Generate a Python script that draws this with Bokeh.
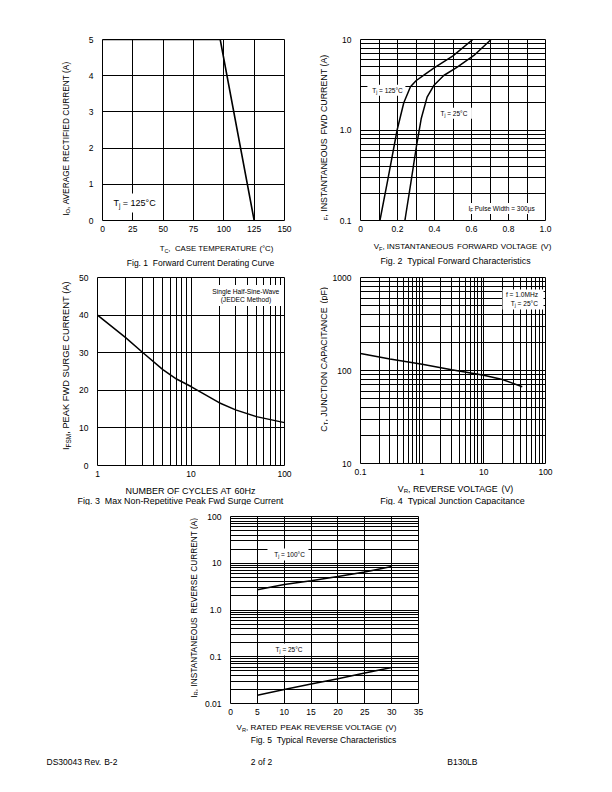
import math
import re
from bokeh.plotting import figure
from bokeh.models import Label, Range1d, FixedTicker, BasicTickFormatter
from bokeh.layouts import column, row
from bokeh.embed import file_html
from bokeh.resources import INLINE

FONT = "Liberation Sans"

# ---------------- data ----------------
# Fig 1  forward current derating
derate_tc = [0, 97, 125]
derate_io = [5, 5, 0]
f1_xticks = [0, 25, 50, 75, 100, 125, 150]
f1_xlabels = ["0", "25", "50", "75", "100", "125", "150"]
f1_yticks = [0, 1, 2, 3, 4, 5]
f1_ylabels = ["0", "1", "2", "3", "4", "5"]

# Fig 2  forward characteristics
vf_125 = [0.105, 0.15, 0.198, 0.234, 0.27, 0.30, 0.35, 0.40, 0.50, 0.607]
if_125 = [0.1, 0.30, 1.0, 2.0, 3.0, 3.5, 4.15, 4.9, 6.6, 10.0]
vf_25 = [0.24, 0.27, 0.303, 0.328, 0.36, 0.396, 0.45, 0.523, 0.613, 0.706]
if_25 = [0.1, 0.244, 0.674, 1.33, 2.31, 3.1, 4.0, 4.94, 6.66, 10.0]
f2_xticks = [0, 0.2, 0.4, 0.6, 0.8, 1.0]
f2_xlabels = ["0", "0.2", "0.4", "0.6", "0.8", "1.0"]
f2_xminor = [0.1, 0.3, 0.5, 0.7, 0.9]
f2_yticks = [0.1, 1, 10]
f2_ylabels = ["0.1", "1.0", "10"]
f2_yminor = [0.2, 0.3, 0.4, 0.5, 0.6, 0.7, 0.8, 0.9, 2, 3, 4, 5, 6, 7, 8, 9]

# Fig 3  surge current
cycles = [1, 2, 3, 5, 7, 10, 20, 30, 50, 100]
ifsm = [40, 34, 30.2, 25.5, 23, 21, 16.7, 14.8, 13, 11.4]
f3_xticks = [1, 10, 100]
f3_xlabels = ["1", "10", "100"]
f3_xminor = [2, 3, 4, 5, 6, 7, 8, 9, 20, 30, 40, 50, 60, 70, 80, 90]
f3_yticks = [0, 10, 20, 30, 40, 50]
f3_ylabels = ["0", "10", "20", "30", "40", "50"]

# Fig 4  junction capacitance
vr_cap = [0.1, 0.3, 1, 3, 10, 20, 42]
cj = [152, 133, 117, 102, 89, 80, 67]
f4_xticks = [0.1, 1, 10, 100]
f4_xlabels = ["0.1", "1", "10", "100"]
f4_xminor = [0.2, 0.3, 0.4, 0.5, 0.6, 0.7, 0.8, 0.9, 2, 3, 4, 5, 6, 7, 8, 9,
             20, 30, 40, 50, 60, 70, 80, 90]
f4_yticks = [10, 100, 1000]
f4_ylabels = ["10", "100", "1000"]
f4_yminor = [20, 30, 40, 50, 60, 70, 80, 90, 200, 300, 400, 500, 600, 700, 800, 900]

# Fig 5  reverse characteristics
vr_rev = [5, 10, 15, 20, 25, 30]
ir_100 = [2.7, 3.5, 4.2, 5.2, 6.5, 8.5]
ir_25 = [0.015, 0.020, 0.026, 0.034, 0.045, 0.059]
f5_xticks = [0, 5, 10, 15, 20, 25, 30, 35]
f5_xlabels = ["0", "5", "10", "15", "20", "25", "30", "35"]
f5_yticks = [0.01, 0.1, 1, 10, 100]
f5_ylabels = ["0.01", "0.1", "1.0", "10", "100"]
f5_yminor = [0.02, 0.03, 0.04, 0.05, 0.06, 0.07, 0.08, 0.09,
             0.2, 0.3, 0.4, 0.5, 0.6, 0.7, 0.8, 0.9,
             2, 3, 4, 5, 6, 7, 8, 9, 20, 30, 40, 50, 60, 70, 80, 90]

# ---------------- text helpers ----------------
W = {' ': .278, ',': .278, '.': .278, '-': .333, '(': .333, ')': .333, '=': .584,
     '°': .4, 'µ': .556, 'A': .667, 'B': .667, 'C': .722, 'D': .722, 'E': .667,
     'F': .611, 'G': .778, 'H': .722, 'I': .278, 'J': .5, 'K': .667, 'L': .556,
     'M': .833, 'N': .722, 'O': .778, 'P': .667, 'Q': .778, 'R': .722, 'S': .667,
     'T': .611, 'U': .722, 'V': .667, 'W': .944, 'X': .667, 'Y': .667, 'Z': .611,
     'a': .556, 'b': .556, 'c': .5, 'd': .556, 'e': .556, 'f': .278, 'g': .556,
     'h': .556, 'i': .222, 'j': .222, 'k': .5, 'l': .222, 'm': .833, 'n': .556,
     'o': .556, 'p': .556, 'q': .556, 'r': .333, 's': .5, 't': .278, 'u': .556,
     'v': .5, 'w': .722, 'x': .5, 'y': .5, 'z': .5}


def tw(s, size):
    return sum(W.get(c, .556) for c in s) * size


def rich(p, x, y, segs, size, angle=0.0, align="center"):
    sub = 0.7 * size
    ws = [tw(t, sub if s else size) for t, s in segs]
    tot = sum(ws)
    pos = {"center": -tot / 2, "left": 0.0, "right": -tot}[align]
    for (t, s), w in zip(segs, ws):
        fs = sub if s else size
        drop = 0.28 * size if s else 0.0
        cur = pos
        for part in re.split(r"( +)", t):
            if not part:
                continue
            if part.strip() == "":
                cur += tw(part, fs)
                continue
            if angle:
                xo, yo = drop, cur
            else:
                xo, yo = cur, -drop
            p.add_layout(Label(x=x, y=y, x_offset=xo, y_offset=yo,
                               text=part, angle=angle,
                               text_align="left", text_baseline="middle",
                               text_font=FONT, text_font_size=f"{fs:.2f}px",
                               text_color="black"))
            cur += tw(part, fs)
        pos += w


def make_fig(width, height, left, right, top, bottom, xr, yr, xt="linear", yt="linear"):
    p = figure(width=width, height=height, min_border_left=left, min_border_right=right,
               min_border_top=top, min_border_bottom=bottom, x_range=xr, y_range=yr,
               x_axis_type=xt, y_axis_type=yt, output_backend="svg",
               toolbar_location=None, tools="")
    p.outline_line_color = "black"
    p.outline_line_width = 1
    p.outline_line_alpha = 1
    p.background_fill_color = "white"
    p.border_fill_color = "white"
    for ax in (p.xaxis[0], p.yaxis[0]):
        ax.axis_line_color = None
        ax.major_tick_line_color = None
        ax.minor_tick_line_color = None
        ax.major_tick_out = 0
        ax.major_tick_in = 0
        ax.minor_tick_out = 0
        ax.minor_tick_in = 0
        ax.major_label_text_font = FONT
        ax.major_label_text_font_size = "8.5px"
        ax.major_label_text_color = "black"
        ax.formatter = BasicTickFormatter()
    p.xaxis[0].major_label_standoff = 5
    p.yaxis[0].major_label_standoff = 9
    for g in (p.xgrid[0], p.ygrid[0]):
        g.grid_line_color = "black"
        g.grid_line_alpha = 1
        g.grid_line_width = 1
        g.minor_grid_line_color = "black"
        g.minor_grid_line_alpha = 1
        g.minor_grid_line_width = 1
    return p


def make_strip(width, height):
    # text-only panel: its frame covers the whole canvas, 1 unit = 1 px
    s = figure(width=width, height=height, min_border_left=0, min_border_right=0,
               min_border_top=0, min_border_bottom=0,
               x_range=Range1d(0, width), y_range=Range1d(0, height),
               x_axis_location=None, y_axis_location=None, output_backend="svg",
               toolbar_location=None, tools="")
    s.outline_line_color = None
    s.background_fill_color = "white"
    s.border_fill_color = "white"
    for g in s.grid:
        g.visible = False
    return s


def ticks(p, dim, major, labels, minor=None):
    t = FixedTicker(ticks=major, minor_ticks=minor or [])
    ax = p.xaxis[0] if dim == "x" else p.yaxis[0]
    g = p.xgrid[0] if dim == "x" else p.ygrid[0]
    ax.ticker = t
    g.ticker = t
    ax.major_label_overrides = {v: l for v, l in zip(major, labels)}


def box(p, x, y, w, h):
    p.rect(x=[x], y=[y], width=[w], height=[h], width_units="screen",
           height_units="screen", fill_color="white", line_color=None)


VERT = math.pi / 2

# ---------------- Fig 1 ----------------
p1 = make_fig(228, 236, 30, 16, 39, 16, Range1d(0, 150), Range1d(0, 5))
ticks(p1, "x", f1_xticks, f1_xlabels)
ticks(p1, "y", f1_yticks, f1_ylabels)
box(p1, 25.1, 0.48, 49, 19)
p1.line(derate_tc, derate_io, line_color="black", line_width=1.6)
rich(p1, 26.4, 0.48, [("T", 0), ("j", 1), (" = 125°C", 0)], 9)
L1 = make_strip(72, 236)
rich(L1, 65, 106.5, [("I", 0), ("O", 1), (", AVERAGE RECTIFIED CURRENT (A)", 0)], 8.3, VERT)
B1 = make_strip(300, 34)
rich(B1, 216, 22, [("T", 0), ("C", 1), (",  CASE TEMPERATURE (°C)", 0)], 7.8)
rich(B1, 200, 8, [("Fig. 1  Forward Current Derating Curve", 0)], 8.5)

# ---------------- Fig 2 ----------------
p2 = make_fig(272, 236, 28, 59, 39, 16, Range1d(0, 1.0), Range1d(0.1, 10), yt="log")
ticks(p2, "x", f2_xticks, f2_xlabels, f2_xminor)
ticks(p2, "y", f2_yticks, f2_ylabels, f2_yminor)
box(p2, 0.14, 2.75, 38, 11)
box(p2, 0.505, 1.53, 36, 11)
box(p2, 0.76, 0.136, 76, 11)
p2.line(vf_125, if_125, line_color="black", line_width=1.5)
p2.line(vf_25, if_25, line_color="black", line_width=1.5)
rich(p2, 0.146, 2.70, [("T", 0), ("j", 1), (" = 125°C", 0)], 6.5)
rich(p2, 0.505, 1.53, [("T", 0), ("j", 1), (" = 25°C", 0)], 6.5)
rich(p2, 0.762, 0.136, [("I", 0), ("F", 1), (" Pulse Width = 300µs", 0)], 6.5)
L2 = make_strip(32, 236)
rich(L2, 23, 106.5, [("I", 0), ("F", 1), (", INSTANTANEOUS FWD CURRENT (A)", 0)], 8.8, VERT)
B2 = make_strip(304, 34)
rich(B2, 162, 24, [("V", 0), ("F", 1), (", INSTANTANEOUS FORWARD VOLTAGE (V)", 0)], 8)
rich(B2, 155, 10, [("Fig. 2  Typical Forward Characteristics", 0)], 8.8)

# ---------------- Fig 3 ----------------
p3 = make_fig(228, 211, 25, 16, 7, 16, Range1d(1, 100), Range1d(0, 50), xt="log")
ticks(p3, "x", f3_xticks, f3_xlabels, f3_xminor)
ticks(p3, "y", f3_yticks, f3_ylabels)
box(p3, 38.7, 45.2, 74, 21)
p3.line(cycles, ifsm, line_color="black", line_width=1.5)
rich(p3, 38.7, 46.35, [("Single Half-Sine-Wave", 0)], 6.7)
rich(p3, 38.7, 44.07, [("(JEDEC Method)", 0)], 6.7)
L3 = make_strip(72, 211)
rich(L3, 65, 112, [("I", 0), ("FSM", 1), (", PEAK FWD SURGE CURRENT (A)", 0)], 9.3, VERT)
B3 = make_strip(300, 24)
rich(B3, 190, 15, [("NUMBER OF CYCLES AT 60Hz", 0)], 9)
rich(B3, 180, 5, [("Fig. 3  Max Non-Repetitive Peak Fwd Surge Current", 0)], 8.9)

# ---------------- Fig 4 ----------------
p4 = make_fig(276, 211, 32, 59, 7, 18, Range1d(0.1, 100), Range1d(10, 1000), xt="log", yt="log")
ticks(p4, "x", f4_xticks, f4_xlabels, f4_xminor)
ticks(p4, "y", f4_yticks, f4_ylabels, f4_yminor)
box(p4, 43.2, 580, 41, 20)
p4.line(vr_cap, cj, line_color="black", line_width=1.5)
rich(p4, 75.5, 651, [("f = 1.0MHz", 0)], 6.6, align="right")
rich(p4, 75.5, 521, [("T", 0), ("j", 1), (" = 25°C", 0)], 6.6, align="right")
L4 = make_strip(28, 211)
rich(L4, 23, 118, [("C", 0), ("T", 1), (", JUNCTION CAPACITANCE (pF)", 0)], 8.9, VERT)
B4 = make_strip(304, 24)
rich(B4, 155, 17, [("V", 0), ("R", 1), (", REVERSE VOLTAGE (V)", 0)], 8.8)
rich(B4, 152, 5, [("Fig. 4  Typical Junction Capacitance", 0)], 9)

# ---------------- Fig 5 ----------------
p5 = make_fig(406, 214, 32, 186, 11, 16, Range1d(0, 35), Range1d(0.01, 100), yt="log")
ticks(p5, "x", f5_xticks, f5_xlabels)
ticks(p5, "y", f5_yticks, f5_ylabels, f5_yminor)
box(p5, 10.7, 15.4, 41, 12)
box(p5, 10.7, 0.143, 41, 12)
p5.line(vr_rev, ir_100, line_color="black", line_width=1.5)
p5.line(vr_rev, ir_25, line_color="black", line_width=1.5)
rich(p5, 11.0, 15.4, [("T", 0), ("j", 1), (" = 100°C", 0)], 6.5)
rich(p5, 10.9, 0.143, [("T", 0), ("j", 1), (" = 25°C", 0)], 6.5)
L5 = make_strip(198, 214)
rich(L5, 193, 109.5, [("I", 0), ("R", 1), (", INSTANTANEOUS REVERSE CURRENT (A)", 0)], 8.3, VERT)
B5 = make_strip(604, 65)
rich(B5, 316, 57, [("V", 0), ("R", 1), (", RATED PEAK REVERSE VOLTAGE (V)", 0)], 8.1)
rich(B5, 323, 45, [("Fig. 5  Typical Reverse Characteristics", 0)], 8.5)
# page footer
rich(B5, 46, 23, [("DS30043 Rev. B-2", 0)], 8.5, align="left")
rich(B5, 261, 23, [("2 of 2", 0)], 8.5)
rich(B5, 477, 23, [("B130LB", 0)], 8.5, align="right")

row1 = row(column(row(L1, p1), B1), column(row(L2, p2), B2))
row2 = row(column(row(L3, p3), B3), column(row(L4, p4), B4))
row3 = column(row(L5, p5), B5)
layout = column(row1, row2, row3)
open("out.html", "w").write(file_html(layout, INLINE))
